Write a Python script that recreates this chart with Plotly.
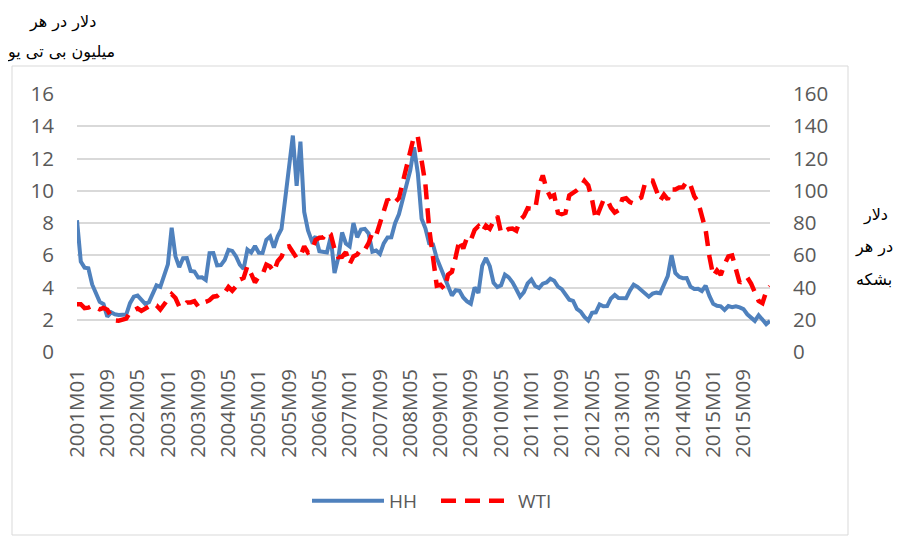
import plotly.graph_objects as go

years = list(range(2001, 2017))
months = [f"{y}M{m:02d}" for y in years for m in range(1, 13)][:184]

hh = [
    8.17, 5.61, 5.23, 5.19, 4.19, 3.72, 3.11, 2.97, 2.19, 2.46, 2.34, 2.30,
    2.32, 2.32, 3.03, 3.43, 3.50, 3.26, 2.99, 3.09, 3.55, 4.13, 4.04, 4.74,
    5.43, 7.71, 5.93, 5.26, 5.81, 5.82, 5.03, 4.99, 4.62, 4.63, 4.47, 6.13,
    6.14, 5.37, 5.39, 5.71, 6.33, 6.27, 5.93, 5.41, 5.15, 6.35, 6.17, 6.58,
    6.15, 6.14, 6.96, 7.16, 6.47, 7.18, 7.63, 9.53, 11.75, 13.42, 10.30, 13.05,
    8.69, 7.54, 6.89, 7.16, 6.25, 6.21, 6.17, 7.14, 4.90, 5.85, 7.41, 6.73,
    6.55, 8.00, 7.11, 7.60, 7.64, 7.35, 6.22, 6.29, 6.08, 6.74, 7.10, 7.11,
    7.99, 8.54, 9.41, 10.18, 11.27, 12.69, 11.09, 8.26, 7.67, 6.74, 6.68, 5.82,
    5.24, 4.52, 3.96, 3.50, 3.83, 3.80, 3.38, 3.14, 2.99, 4.01, 3.66, 5.35,
    5.83, 5.32, 4.29, 4.03, 4.14, 4.80, 4.63, 4.32, 3.89, 3.43, 3.71, 4.25,
    4.49, 4.09, 3.97, 4.24, 4.31, 4.54, 4.42, 4.06, 3.90, 3.57, 3.24, 3.17,
    2.67, 2.50, 2.17, 1.95, 2.43, 2.46, 2.95, 2.84, 2.85, 3.32, 3.54, 3.34,
    3.33, 3.33, 3.81, 4.17, 4.04, 3.83, 3.62, 3.43, 3.62, 3.68, 3.64, 4.24,
    4.71, 6.00, 4.90, 4.66, 4.58, 4.59, 4.05, 3.91, 3.92, 3.78, 4.12, 3.48,
    2.99, 2.87, 2.83, 2.61, 2.85, 2.78, 2.84, 2.77, 2.66, 2.34, 2.09, 1.93,
    2.28, 1.99, 1.73, 1.92,
]

wti = [
    29.59, 29.61, 27.25, 27.49, 28.63, 27.60, 26.43, 27.37, 26.20, 22.17, 19.64, 19.39,
    19.72, 20.72, 24.53, 26.18, 27.04, 25.52, 26.97, 28.39, 29.66, 28.84, 26.35, 29.46,
    32.95, 35.83, 33.51, 28.17, 28.11, 30.66, 30.76, 31.57, 28.31, 30.34, 31.11, 32.13,
    34.31, 34.69, 36.74, 36.75, 40.28, 38.03, 40.78, 44.90, 45.94, 53.28, 48.47, 43.15,
    46.84, 48.15, 54.19, 52.98, 49.83, 56.35, 59.00, 64.99, 65.59, 62.26, 58.32, 59.41,
    65.49, 61.63, 62.69, 69.44, 70.84, 70.95, 74.41, 73.04, 63.80, 58.89, 59.08, 61.96,
    54.51, 59.28, 60.44, 63.98, 63.46, 67.49, 74.12, 72.36, 79.92, 85.80, 94.77, 91.69,
    92.97, 95.39, 105.45, 112.58, 125.40, 133.88, 133.37, 116.67, 104.11, 76.61, 57.31, 41.12,
    41.71, 39.09, 47.94, 49.65, 59.03, 69.64, 64.15, 71.05, 69.41, 75.72, 77.99, 74.47,
    78.33, 76.39, 81.20, 84.29, 73.74, 75.34, 76.32, 76.60, 75.24, 81.89, 84.25, 89.15,
    89.17, 88.58, 102.86, 109.53, 100.90, 96.26, 97.30, 86.33, 85.52, 86.32, 97.16, 98.56,
    100.27, 102.20, 106.16, 103.32, 94.66, 82.30, 87.90, 94.13, 94.51, 89.49, 86.53, 87.86,
    94.76, 95.31, 92.94, 92.02, 94.51, 95.77, 104.67, 106.57, 106.29, 100.54, 93.86, 97.63,
    94.62, 100.82, 100.80, 102.07, 102.18, 105.79, 103.59, 96.54, 93.21, 84.40, 75.79, 59.29,
    47.22, 50.58, 47.82, 54.45, 59.27, 59.82, 50.90, 42.87, 45.48, 46.22, 42.44, 37.19,
    31.68, 30.32, 37.55, 40.75,
]

tick_labels = months[::8]
left_ticks = [0, 2, 4, 6, 8, 10, 12, 14, 16]
right_ticks = [0, 20, 40, 60, 80, 100, 120, 140, 160]

# page has an 8px body margin: figure coords = page coords - 8
OFF = 8
W, H = 903 - OFF, 536 - OFF
L, R, T, B = 77 - OFF, 770 - OFF, 94 - OFF, 352 - OFF


def px(x):
    return (x - OFF - L) / (R - L)


def py(y):
    return (B - (y - OFF)) / (B - T)


FONT = "Open Sans, Liberation Sans, sans-serif"
tick_font = dict(family=FONT, size=20.5, color="#595959")

fig = go.Figure()
fig.add_trace(go.Scatter(x=months, y=hh, name="HH", mode="lines",
                         line=dict(color="#4F81BD", width=4), yaxis="y"))
fig.add_trace(go.Scatter(x=months, y=wti, name="WTI", mode="lines",
                         line=dict(color="#FF0000", width=4.5, dash="15px,9px"), yaxis="y2"))

fig.update_layout(
    width=W, height=H,
    margin=dict(l=L, r=W - R, t=T, b=H - B),
    paper_bgcolor="white", plot_bgcolor="white",
    showlegend=True,
    legend=dict(orientation="h", x=px(307), y=py(501), xanchor="left", yanchor="middle",
                font=dict(family=FONT, size=19, color="#595959"),
                itemwidth=72, entrywidth=42, bgcolor="rgba(0,0,0,0)"),
    xaxis=dict(type="category", tickmode="array", tickvals=tick_labels, ticktext=tick_labels,
               tickangle=-90, tickfont=tick_font, showgrid=False, zeroline=False,
               showline=False, ticks="", range=[0, len(months) - 1], ticklabelstandoff=12,
               automargin=False),
    yaxis=dict(range=[0, 16], tickvals=left_ticks, tickfont=tick_font, showgrid=True,
               gridcolor="#D9D9D9", gridwidth=1.5, zeroline=False, showline=False,
               ticklabelstandoff=22, automargin=False),
    yaxis2=dict(range=[0, 160], tickvals=right_ticks, tickfont=tick_font, overlaying="y",
                side="right", showgrid=False, zeroline=False, showline=False,
                ticklabelstandoff=22, automargin=False),
    shapes=[dict(type="rect", xref="paper", yref="paper", x0=px(12), x1=px(848),
                 y0=py(535), y1=py(66), line=dict(color="#D9D9D9", width=1), layer="below")],
)

ann_font = dict(family="DejaVu Sans, sans-serif", size=16, color="black")
for text, x, y in [("دلار در هر", 62, 22), ("میلیون بی تی یو", 61, 52),
                   ("دلار", 875, 215), ("در هر", 874, 247), ("بشکه", 874, 279)]:
    fig.add_annotation(text=text, x=px(x), y=py(y), xref="paper", yref="paper",
                       showarrow=False, xanchor="center", yanchor="middle", font=ann_font)

fig.write_html("out.html")
